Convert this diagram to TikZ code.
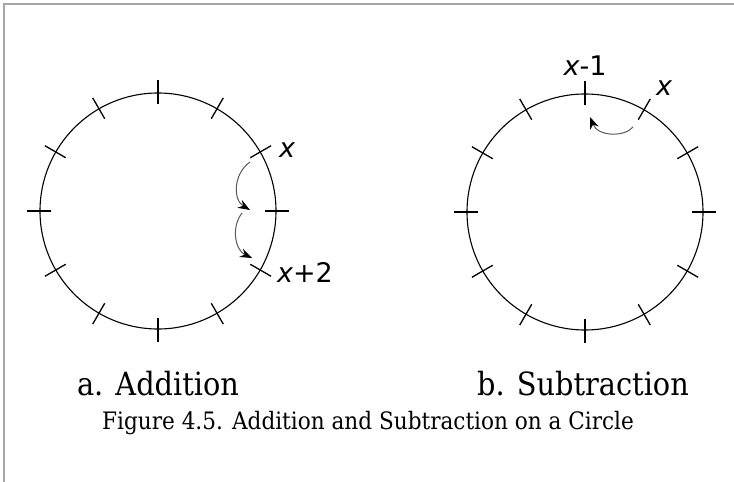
\documentclass[tikz,border=0pt]{standalone}
\usepackage{fontspec}
\setmainfont{DejaVu Serif Condensed}
\newfontfamily\xsans{DejaVu Sans}
\usetikzlibrary{arrows.meta}
\begin{document}
\begin{tikzpicture}[x=1pt,y=1pt,
  ring/.style={draw, circle, minimum size=236pt, inner sep=0pt, line width=1.1pt},
  tickmark/.style={line width=1.3pt},
  hop/.style={draw=black!65, line width=1pt, -{Stealth[length=12pt,width=9pt,black]}},
  lab/.style={font=\xsans\fontsize{27}{30}\selectfont, inner sep=0pt},
  sublabel/.style={font=\fontsize{32}{36}\selectfont, inner sep=0pt},
  figcaption/.style={font=\fontsize{24}{28}\selectfont, inner sep=0pt},
  frame/.style={draw=gray!70, line width=1.5pt}
]
\useasboundingbox (0,0) rectangle (734,482);
\coordinate (fb) at (4,0);
\coordinate (fc) at (4,478);
\coordinate (fr) at (734,478);
\draw[frame] (fb) -- (fc) -- (fr);
\node[ring] (ca) at (158,271) {};
\node[ring] (cb) at (585,270) {};
\foreach \c in {ca,cb}{
  \foreach \a in {0,30,...,330}{
    \draw[tickmark] ([shift={(\a:-12pt)}]\c.\a) -- ([shift={(\a:12pt)}]\c.\a);
  }
}
% addition hops
\coordinate (a1s) at (250,320);
\coordinate (a1e) at (250,272);
\coordinate (a2s) at (242,269);
\coordinate (a2e) at (252,224);
\draw[hop] (a1s) .. controls (233,308) and (233,282) .. (a1e);
\draw[hop] (a2s) .. controls (231,255) and (235,232) .. (a2e);
% subtraction hop
\coordinate (b1s) at (633,355);
\coordinate (b1e) at (590,365);
\draw[hop] (b1s) .. controls (625,345) and (598,345) .. (b1e);
% labels
\node[lab] (xa) at (287,332) {\itshape x};
\node[lab] (xa2) at (305,210) {{\itshape x}+2};
\node[lab] (xb1) at (585,416) {{\itshape x}-1};
\node[lab] (xb) at (664,394) {\itshape x};
\node[sublabel] (la) at (158,98) {a. Addition};
\node[sublabel] (lb) at (583,98) {b. Subtraction};
\node[figcaption] (fig) at (368,59) {Figure 4.5. Addition and Subtraction on a Circle};
\end{tikzpicture}
\end{document}
